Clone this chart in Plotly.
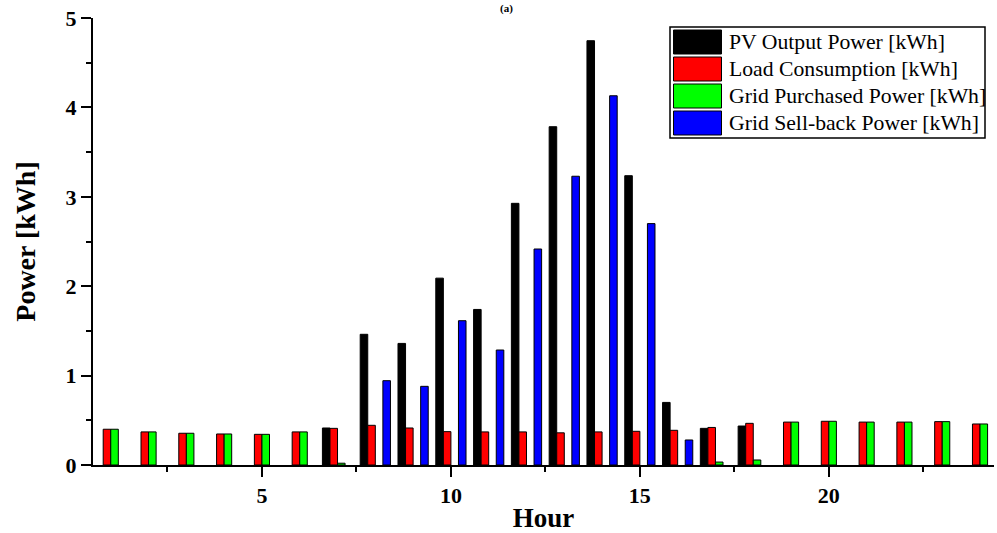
import plotly.graph_objects as go

hours = list(range(1, 25))
series_names = ["PV Output Power [kWh]", "Load Consumption [kWh]",
                "Grid Purchased Power [kWh]", "Grid Sell-back Power [kWh]"]
series_colors = ["#000000", "#FF0000", "#00FF00", "#0000FF"]

pv_output = [0, 0, 0, 0, 0, 0, 0.414, 1.462, 1.36, 2.09, 1.74, 2.927,
             3.784, 4.746, 3.236, 0.70, 0.41, 0.436, 0, 0, 0, 0, 0, 0]
load_consumption = [0.40, 0.37, 0.355, 0.347, 0.343, 0.37, 0.41, 0.444, 0.414, 0.373, 0.37, 0.37,
                    0.36, 0.37, 0.377, 0.388, 0.42, 0.466, 0.48, 0.489, 0.48, 0.48, 0.485, 0.459]
grid_purchased = [0.40, 0.37, 0.355, 0.347, 0.343, 0.37, 0.02, 0, 0, 0, 0, 0,
                  0, 0, 0, 0, 0.033, 0.056, 0.48, 0.489, 0.48, 0.48, 0.485, 0.459]
grid_sellback = [0, 0, 0, 0, 0, 0, 0, 0.943, 0.88, 1.614, 1.286, 2.416,
                 3.23, 4.13, 2.70, 0.28, 0, 0, 0, 0, 0, 0, 0, 0]
all_series = [pv_output, load_consumption, grid_purchased, grid_sellback]

W, H = 997, 533
ML, MR, MT, MB = 93, 3, 18, 68
PW, PH = W - ML - MR, H - MT - MB

def px(x):
    return (x - ML) / PW

def py(y):
    return (H - MB - y) / PH

FONT = "Times New Roman, Liberation Serif, serif"

fig = go.Figure()
for name, color, vals in zip(series_names, series_colors, all_series):
    shown = [v if v else None for v in vals]
    fig.add_trace(go.Bar(x=hours, y=shown, name=name, marker_color=color,
                         marker_line=dict(color="#000000", width=1),
                         showlegend=False))

tickfont = dict(family=FONT, size=22, color="black", weight="bold")
axis_common = dict(showline=True, linecolor="black", linewidth=2, showgrid=False,
                   zeroline=False, ticklen=10, tickwidth=2, tickcolor="black")

fig.update_layout(
    width=W, height=H,
    margin=dict(l=ML, r=MR, t=MT, b=MB),
    paper_bgcolor="white", plot_bgcolor="white",
    barmode="group", bargap=0.2, bargroupgap=0,
    xaxis=dict(range=[0.53, 24.37], tickmode="linear", tick0=0, dtick=5,
               ticks="outside", tickfont=tickfont,
               minor=dict(dtick=2.5, ticks="outside", ticklen=5, tickwidth=2, tickcolor="black"),
               title=dict(text="Hour", font=dict(family=FONT, size=27, color="black", weight="bold"),
                          standoff=2),
               **axis_common),
    yaxis=dict(range=[0, 5], tickmode="linear", tick0=0, dtick=1,
               ticks="outside", tickfont=tickfont,
               minor=dict(dtick=0.5, ticks="outside", ticklen=5, tickwidth=2, tickcolor="black"),
               title=dict(text="Power [kWh]", font=dict(family=FONT, size=28, color="black", weight="bold"),
                          standoff=22),
               **axis_common),
    xaxis2=dict(range=[0.53, 24.37], overlaying="x", side="top", anchor="y",
                tickmode="linear", tick0=0, dtick=5, ticks="inside", showticklabels=False,
                minor=dict(dtick=2.5, ticks="inside", ticklen=5, tickwidth=2, tickcolor="black"),
                **axis_common),
    yaxis2=dict(range=[0, 5], overlaying="y", side="right", anchor="x",
                tickmode="linear", tick0=0, dtick=1, ticks="inside", showticklabels=False,
                minor=dict(dtick=0.5, ticks="inside", ticklen=5, tickwidth=2, tickcolor="black"),
                **axis_common),
)

# custom legend (large swatches like the original)
shapes = [dict(type="rect", xref="paper", yref="paper",
               x0=px(670), x1=px(985), y0=py(138), y1=py(27),
               line=dict(color="black", width=1.5), fillcolor="white", layer="above")]
annotations = []
for i, (name, color) in enumerate(zip(series_names, series_colors)):
    top = 30 + 27 * i
    shapes.append(dict(type="rect", xref="paper", yref="paper",
                       x0=px(673.5), x1=px(721.5), y0=py(top + 24), y1=py(top),
                       line=dict(color="black", width=1), fillcolor=color, layer="above"))
    annotations.append(dict(xref="paper", yref="paper", x=px(727), y=py(top + 12),
                            xanchor="left", yanchor="middle", showarrow=False,
                            text=name, font=dict(family=FONT, size=21.7, color="black")))

# panel label, mostly hidden above the frame in the original; kept small inside the top margin
annotations.append(dict(xref="paper", yref="paper", x=px(506), y=py(1),
                        xanchor="center", yanchor="top", showarrow=False,
                        text="(a)", font=dict(family=FONT, size=11, color="black", weight="bold"),
                        borderpad=0))

fig.update_layout(shapes=shapes, annotations=annotations)

fig.write_html("out.html")
